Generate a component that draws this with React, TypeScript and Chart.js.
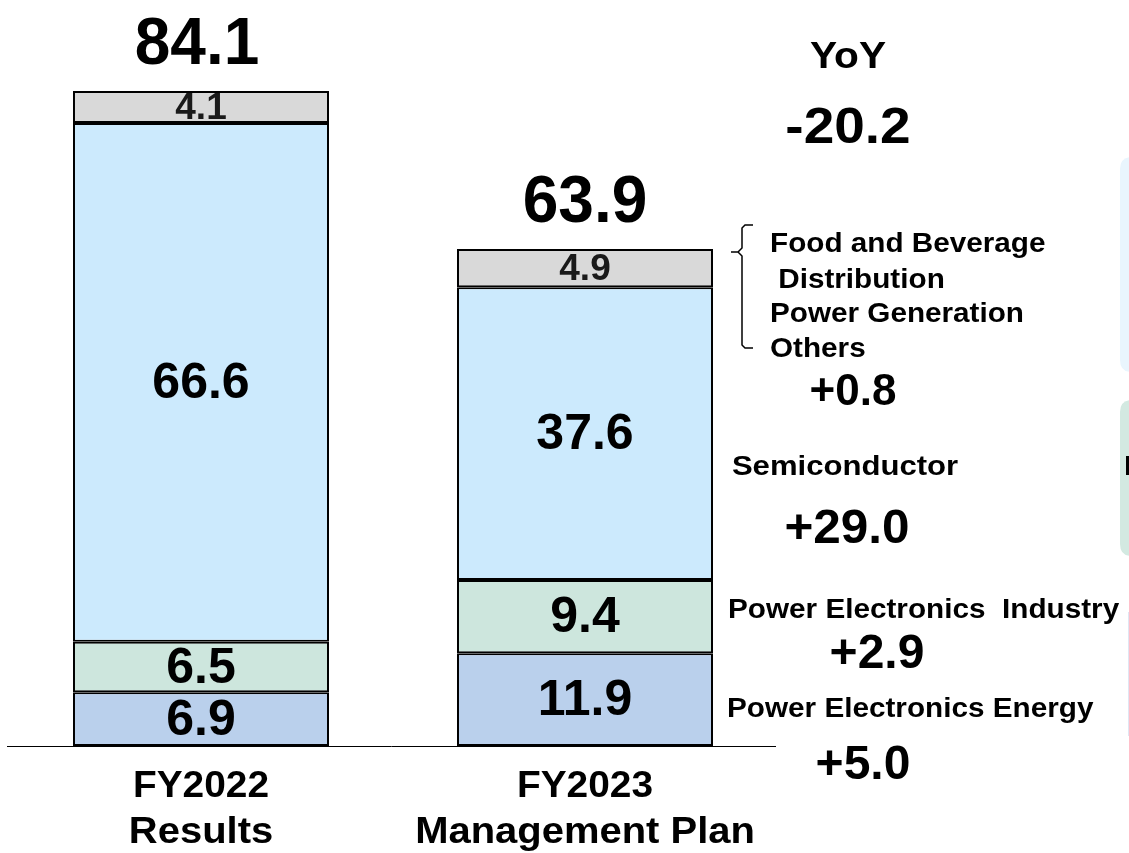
import React, { useEffect, useRef } from "react";
import { Chart, registerables } from "chart.js";

Chart.register(...registerables);

// ---- data ----
const categories = ["FY2022 Results", "FY2023 Management Plan"];
const categoryLines = [["FY2022", "Results"], ["FY2023", "Management Plan"]];
const peEnergy = [6.9, 11.9];
const peIndustry = [6.5, 9.4];
const semiconductor = [66.6, 37.6];
const foodOthers = [4.1, 4.9];
const totals = ["84.1", "63.9"];
const yoyTitle = "YoY";
const yoyTotal = "-20.2";
const othersNames = ["Food and Beverage", " Distribution", "Power Generation", "Others"];
const yoyOthers = "+0.8";
const semiName = "Semiconductor";
const yoySemi = "+29.0";
const industryName = "Power Electronics  Industry";
const yoyIndustry = "+2.9";
const energyName = "Power Electronics Energy";
const yoyEnergy = "+5.0";

const FONT = '"Liberation Sans", Arial, sans-serif';
const f = (s: number) => `bold ${s}px ${FONT}`;

function txt(ctx: any, t: string, x: number, y: number, size: number, align: string, sx = 1) {
  ctx.save();
  ctx.font = f(size);
  ctx.textAlign = align;
  ctx.translate(x, y);
  ctx.scale(sx, 1);
  ctx.fillText(t, 0, 0);
  ctx.restore();
}

const overlayPlugin = {
  id: "overlay",
  beforeDatasetsDraw(chart: any) {
    const ctx = chart.ctx;
    ctx.save();
    const rr = (x: number, y: number, w: number, h: number, r: number) => {
      ctx.beginPath();
      ctx.moveTo(x + r, y);
      ctx.lineTo(x + w - r, y);
      ctx.quadraticCurveTo(x + w, y, x + w, y + r);
      ctx.lineTo(x + w, y + h - r);
      ctx.quadraticCurveTo(x + w, y + h, x + w - r, y + h);
      ctx.lineTo(x + r, y + h);
      ctx.quadraticCurveTo(x, y + h, x, y + h - r);
      ctx.lineTo(x, y + r);
      ctx.quadraticCurveTo(x, y, x + r, y);
      ctx.closePath();
    };
    ctx.fillStyle = "#e9f5fd";
    rr(1120, 157, 40, 215, 12);
    ctx.fill();
    ctx.fillStyle = "#d3e9e1";
    rr(1120, 400, 40, 156, 12);
    ctx.fill();
    ctx.strokeStyle = "#dfe6f3";
    ctx.lineWidth = 2;
    ctx.beginPath();
    ctx.moveTo(1129, 612);
    ctx.lineTo(1129, 736);
    ctx.stroke();
    ctx.fillStyle = "#000";
    ctx.fillRect(1126, 456, 4, 19);
    ctx.restore();
  },
  afterDatasetsDraw(chart: any) {
    const ctx = chart.ctx;
    const yScale = chart.scales.y;
    const baseY = Math.round(yScale.getPixelForValue(0)) + 0.5;
    ctx.save();

    ctx.strokeStyle = "#000";
    ctx.lineWidth = 1;
    ctx.beginPath();
    ctx.moveTo(7, baseY);
    ctx.lineTo(776, baseY);
    ctx.stroke();

    ctx.fillStyle = "#000";

    chart.data.datasets.forEach((ds: any, di: number) => {
      const meta = chart.getDatasetMeta(di);
      meta.data.forEach((el: any, i: number) => {
        const v = ds.data[i];
        const cy = (el.y + el.base) / 2 + 2;
        ctx.textBaseline = "middle";
        ctx.fillStyle = di === 3 ? "#1a1a1a" : "#000";
        txt(ctx, v.toFixed(1), el.x, cy, di === 3 ? 37 : 50, "center");
      });
    });

    const topMeta = chart.getDatasetMeta(3);
    ctx.textBaseline = "alphabetic";
    ctx.fillStyle = "#000";
    topMeta.data.forEach((el: any, i: number) => {
      txt(ctx, totals[i], el.x - 4 * (1 - i), el.y - 27, 66, "center", 0.97);
      txt(ctx, categoryLines[i][0], el.x, 797, 37, "center", 1.05);
      txt(ctx, categoryLines[i][1], el.x, 843, 37, "center", 1.08);
    });

    txt(ctx, yoyTitle, 848, 68, 36, "center", 1.13);
    txt(ctx, yoyTotal, 848, 143, 50, "center", 1.1);

    const oy = [252, 288, 322, 357];
    othersNames.forEach((t, i) => txt(ctx, t, 770, oy[i], 28, "left", 1.06));
    txt(ctx, yoyOthers, 853, 405, 44, "center");

    txt(ctx, semiName, 845, 475, 28, "center", 1.11);
    txt(ctx, yoySemi, 847, 543, 48, "center", 1.03);

    txt(ctx, industryName, 728, 618, 27, "left", 1.1);
    txt(ctx, yoyIndustry, 877, 668, 48, "center");

    txt(ctx, energyName, 727, 717, 27, "left", 1.1);
    txt(ctx, yoyEnergy, 863, 779, 48, "center");

    ctx.strokeStyle = "#000";
    ctx.lineWidth = 1.5;
    ctx.beginPath();
    ctx.moveTo(753, 225);
    ctx.lineTo(745, 225);
    ctx.lineTo(742, 228);
    ctx.lineTo(742, 248);
    ctx.lineTo(738, 252);
    ctx.lineTo(731, 252);
    ctx.moveTo(738, 252);
    ctx.lineTo(742, 256);
    ctx.lineTo(742, 345);
    ctx.lineTo(745, 348);
    ctx.lineTo(753, 348);
    ctx.stroke();

    ctx.restore();
  },
};

export default function App() {
  const ref = useRef<HTMLCanvasElement | null>(null);
  useEffect(() => {
    if (!ref.current) return;
    const common = {
      borderColor: "#000",
      borderWidth: 2,
      borderSkipped: false,
      barPercentage: 1,
      categoryPercentage: 0.6667,
    };
    const chart = new Chart(ref.current, {
      type: "bar",
      data: {
        labels: categories,
        datasets: [
          { label: "Power Electronics Energy", data: peEnergy, backgroundColor: "#bad0ec", ...common },
          { label: "Power Electronics Industry", data: peIndustry, backgroundColor: "#cde6dd", ...common },
          { label: "Semiconductor", data: semiconductor, backgroundColor: "#cceafd", ...common },
          { label: "Food and Beverage, Distribution, Power Generation, Others", data: foodOthers, backgroundColor: "#d9d9d9", ...common },
        ],
      },
      options: {
        animation: false,
        responsive: false,
        layout: { padding: { left: 9, right: 352, top: 45, bottom: 107 } },
        plugins: { legend: { display: false }, tooltip: { enabled: false } },
        scales: {
          x: { display: false, stacked: true },
          y: { display: false, stacked: true, min: 0, max: 90 },
        },
      },
      plugins: [overlayPlugin],
    } as any);
    return () => chart.destroy();
  }, []);
  return (
    <div style={{ position: "absolute", left: 0, top: 0, width: 1129, height: 853, background: "#fff" }}>
      <canvas ref={ref} width={1129} height={853} style={{ display: "block" }} />
    </div>
  );
}
